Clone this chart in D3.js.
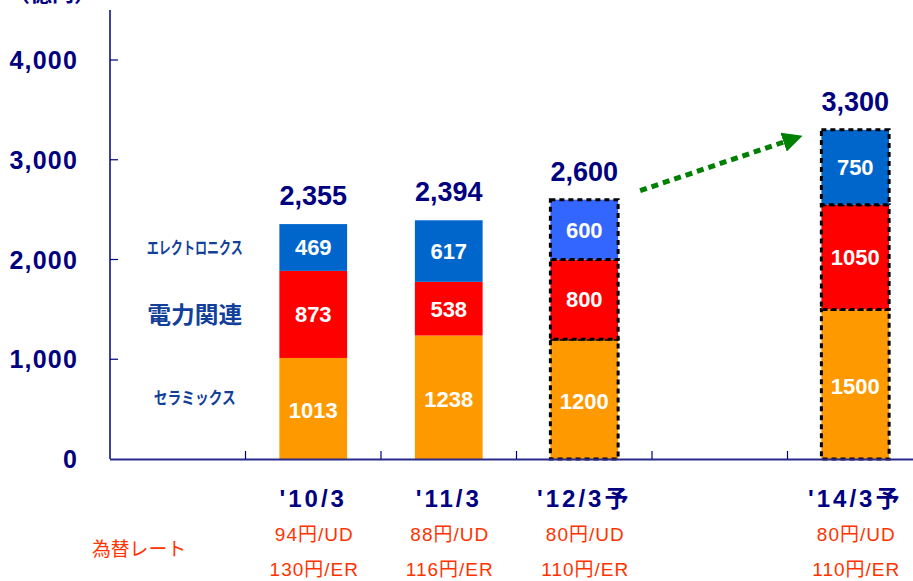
<!DOCTYPE html>
<html>
<head>
<meta charset="utf-8">
<script src="https://cdn.jsdelivr.net/npm/d3@7"></script>
<style>
  body { margin: 0; background: #fff; }
  svg { display: block; font-family: Arial, "Liberation Sans", "Noto Sans CJK JP", sans-serif; }
</style>
</head>
<body>
<div id="chart"></div>
<script>
'use strict';

// --- Data
var slots = ['label', "'10/3", "'11/3", "'12/3予", 'gap', "'14/3予"];
var periods = ["'10/3", "'11/3", "'12/3予", "'14/3予"];
var ceramics = [1013, 1238, 1200, 1500];
var power = [873, 538, 800, 1050];
var electronics = [469, 617, 600, 750];
var totals = ['2,355', '2,394', '2,600', '3,300'];
var forecast = [false, false, true, true];
var rateUsd = ['94円/UD', '88円/UD', '80円/UD', '80円/UD'];
var rateEur = ['130円/ER', '116円/ER', '110円/ER', '110円/ER'];
var segmentNames = ['セラミックス', '電力関連', 'エレクトロニクス'];
var yTicks = [0, 1000, 2000, 3000, 4000];

var width = 913;
var height = 581;
var navy = '#000080';
var labelBlue = '#123f9a';
var rateRed = '#ff3300';

var svg = d3.select('#chart')
  .append('svg')
  .attr('width', width)
  .attr('height', height);

var x = d3.scaleBand()
  .domain(slots)
  .range([110, 110 + 6 * 135.5])
  .paddingInner(0.5)
  .paddingOuter(0.25);

var y = d3.scaleLinear()
  .domain([0, 4000])
  .range([459, 60]);

// --- Stack the segments
var rows = periods.map(function(p, i) {
  return { period: p, ceramics: ceramics[i], power: power[i], electronics: electronics[i], forecast: forecast[i], idx: i };
});
var stack = d3.stack().keys(['ceramics', 'power', 'electronics']);
var series = stack(rows);

function segColor(key, d) {
  if (key === 'ceramics') return '#ff9900';
  if (key === 'power') return '#ff0000';
  return d.data.forecast && d.data.idx === 2 ? '#3366ff' : '#0066cc';
}

// --- Unit label (cut off at the top, as in the source slide)
svg.append('text')
  .attr('x', 8)
  .attr('y', 1)
  .attr('font-size', 22)
  .attr('font-weight', 'bold')
  .attr('fill', navy)
  .text('（億円）');

// --- Bars
series.forEach(function(s) {
  svg.selectAll('.seg-' + s.key)
    .data(s)
    .enter()
    .append('rect')
    .attr('class', 'seg-' + s.key)
    .attr('x', function(d) { return x(d.data.period); })
    .attr('width', x.bandwidth())
    .attr('y', function(d) { return y(d[1]); })
    .attr('height', function(d) { return y(d[0]) - y(d[1]); })
    .attr('fill', function(d) { return segColor(s.key, d); })
    .attr('stroke', function(d) { return d.data.forecast ? '#000' : 'none'; })
    .attr('stroke-width', 3)
    .attr('stroke-dasharray', '5,4');

  svg.selectAll('.val-' + s.key)
    .data(s)
    .enter()
    .append('text')
    .attr('class', 'val-' + s.key)
    .attr('x', function(d) { return x(d.data.period) + x.bandwidth() / 2; })
    .attr('y', function(d) {
      var mid = (y(d[0]) + y(d[1])) / 2;
      return s.key === 'ceramics' ? mid + 10 : mid + 8;
    })
    .attr('text-anchor', 'middle')
    .attr('font-size', 22)
    .attr('font-weight', 'bold')
    .attr('fill', '#fff')
    .text(function(d) { return d.data[s.key]; });
});

// --- Totals above bars
svg.selectAll('.total')
  .data(rows)
  .enter()
  .append('text')
  .attr('class', 'total')
  .attr('x', function(d) { return x(d.period) + x.bandwidth() / 2; })
  .attr('y', function(d) { return y(d.ceramics + d.power + d.electronics) - 19; })
  .attr('text-anchor', 'middle')
  .attr('font-size', 27)
  .attr('font-weight', 'bold')
  .attr('fill', navy)
  .text(function(d, i) { return totals[i]; });

// --- Axes
svg.append('line')
  .attr('x1', 110).attr('x2', 110)
  .attr('y1', 10).attr('y2', y(0))
  .attr('stroke', navy)
  .attr('stroke-width', 1.5);

svg.append('line')
  .attr('x1', 110).attr('x2', width)
  .attr('y1', y(0) + 0.5).attr('y2', y(0) + 0.5)
  .attr('stroke', '#2a2a8a')
  .attr('stroke-width', 2);

svg.selectAll('.ytick')
  .data(yTicks.slice(1))
  .enter()
  .append('line')
  .attr('x1', 110).attr('x2', 118)
  .attr('y1', function(d) { return y(d); })
  .attr('y2', function(d) { return y(d); })
  .attr('stroke', navy)
  .attr('stroke-width', 1.2);

svg.selectAll('.ylabel')
  .data(yTicks)
  .enter()
  .append('text')
  .attr('x', 78)
  .attr('y', function(d) { return y(d) + 9; })
  .attr('text-anchor', 'end')
  .attr('font-size', 25)
  .attr('font-weight', 'bold')
  .attr('letter-spacing', 1.2)
  .attr('fill', navy)
  .text(function(d) { return d3.format(',')(d); });

// --- Category boundary ticks
svg.selectAll('.xtick')
  .data(slots.slice(1))
  .enter()
  .append('line')
  .attr('x1', function(d, i) { return 110 + (i + 1) * x.step(); })
  .attr('x2', function(d, i) { return 110 + (i + 1) * x.step(); })
  .attr('y1', y(0) - 8)
  .attr('y2', y(0))
  .attr('stroke', navy)
  .attr('stroke-width', 1.2);

// --- Period labels and exchange rates
svg.selectAll('.period')
  .data(rows)
  .enter()
  .append('text')
  .attr('x', function(d) { return x(d.period) + x.bandwidth() / 2; })
  .attr('y', 507)
  .attr('text-anchor', 'middle')
  .attr('font-size', 24)
  .attr('font-weight', 'bold')
  .attr('letter-spacing', 3)
  .attr('fill', navy)
  .text(function(d) { return d.period; });

svg.selectAll('.usd')
  .data(rows)
  .enter()
  .append('text')
  .attr('x', function(d) { return x(d.period) + x.bandwidth() / 2 + 1; })
  .attr('y', 541)
  .attr('text-anchor', 'middle')
  .attr('font-size', 19)
  .attr('letter-spacing', 1)
  .attr('fill', rateRed)
  .text(function(d, i) { return rateUsd[i]; });

svg.selectAll('.eur')
  .data(rows)
  .enter()
  .append('text')
  .attr('x', function(d) { return x(d.period) + x.bandwidth() / 2 + 1; })
  .attr('y', 576)
  .attr('text-anchor', 'middle')
  .attr('font-size', 19)
  .attr('letter-spacing', 1)
  .attr('fill', rateRed)
  .text(function(d, i) { return rateEur[i]; });

svg.append('text')
  .attr('x', 92)
  .attr('y', 556)
  .attr('font-size', 19)
  .attr('textLength', 94)
  .attr('lengthAdjust', 'spacingAndGlyphs')
  .attr('fill', rateRed)
  .text('為替レート');

// --- Segment names, aligned with the first bar's segments
var nameWidths = [82, 95, 96];
var nameSizes = [17, 23, 17];
var firstCol = series.map(function(s) { return s[0]; });
svg.selectAll('.segname')
  .data(firstCol)
  .enter()
  .append('text')
  .attr('x', function(d, i) { return x('label') + x.bandwidth() / 2 + 17 - nameWidths[i] / 2; })
  .attr('y', function(d, i) {
    var mid = (y(d[0]) + y(d[1])) / 2;
    return i === 0 ? mid - 4 : (i === 1 ? mid + 9 : mid + 7);
  })
  .attr('font-size', function(d, i) { return nameSizes[i]; })
  .attr('font-weight', 'bold')
  .attr('textLength', function(d, i) { return nameWidths[i]; })
  .attr('lengthAdjust', 'spacingAndGlyphs')
  .attr('fill', labelBlue)
  .text(function(d, i) { return segmentNames[i]; });

// --- Growth arrow toward the 2014 plan
var defs = svg.append('defs');
defs.append('marker')
  .attr('id', 'arrowhead')
  .attr('viewBox', '0 0 10 10')
  .attr('refX', 2)
  .attr('refY', 5)
  .attr('markerWidth', 4)
  .attr('markerHeight', 4)
  .attr('orient', 'auto')
  .attr('markerUnits', 'strokeWidth')
  .append('path')
  .attr('d', 'M0,0 L10,5 L0,10 Z')
  .attr('fill', '#008000');

svg.append('line')
  .attr('x1', x("'12/3予") + x.bandwidth() + 22)
  .attr('y1', y(2600) - 9)
  .attr('x2', x("'14/3予") - 34)
  .attr('y2', y(3300) + 11)
  .attr('stroke', '#008000')
  .attr('stroke-width', 5)
  .attr('stroke-dasharray', '7,5')
  .attr('marker-end', 'url(#arrowhead)');
</script>
</body>
</html>
